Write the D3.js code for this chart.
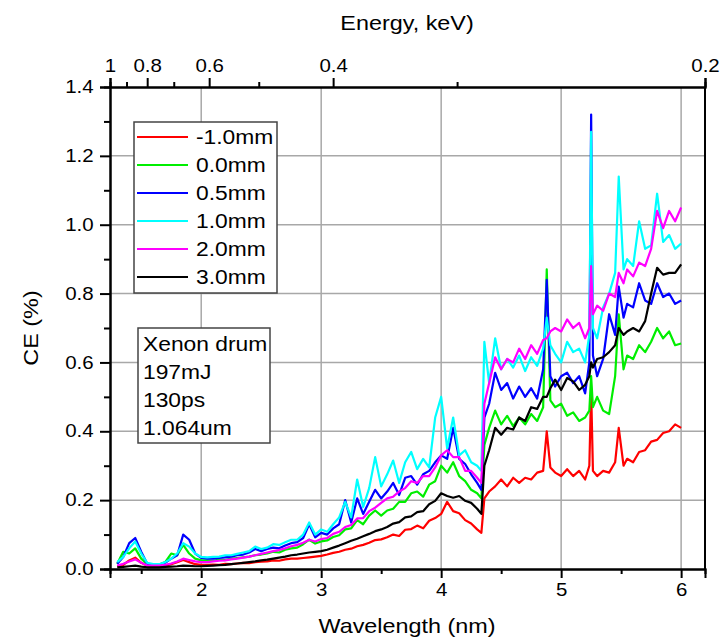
<!DOCTYPE html>
<html>
<head>
<meta charset="utf-8">
<script src="https://cdn.jsdelivr.net/npm/d3@7"></script>
<style>
  body { margin: 0; background: #fff; }
  text { font-family: "Liberation Sans", Arial, sans-serif; fill: #000; }
</style>
</head>
<body>
<div class="chart"></div>
<script>
// wavelength points (nm)
var wavelength = [
  1.30,1.35,1.40,1.45,1.50,1.55,1.60,1.65,1.70,1.75,1.80,1.85,1.90,1.95,2.00,
  2.05,2.10,2.15,2.20,2.25,2.30,2.35,2.40,2.45,2.50,2.55,2.60,2.65,2.70,2.75,
  2.80,2.85,2.90,2.95,3.00,3.05,3.10,3.15,3.20,3.25,3.30,3.35,3.40,3.45,3.50,
  3.55,3.60,3.65,3.70,3.75,3.80,3.85,3.90,3.95,4.00,4.05,4.10,4.15,4.20,4.25,
  4.30,4.335,4.36,4.40,4.45,4.50,4.55,4.60,4.65,4.70,4.75,4.80,4.85,4.88,4.91,
  4.95,5.00,5.05,5.10,5.15,5.20,5.235,5.25,5.265,5.30,5.35,5.40,5.45,5.48,5.52,
  5.55,5.60,5.65,5.70,5.75,5.80,5.85,5.90,5.95,6.00
];

var ceMinus10 = [
  0.008,0.012,0.025,0.033,0.018,0.010,0.008,0.008,0.010,0.014,0.020,0.026,0.020,0.014,0.012,
  0.012,0.013,0.012,0.015,0.014,0.016,0.018,0.017,0.020,0.021,0.022,0.025,0.024,0.028,0.030,
  0.030,0.032,0.034,0.036,0.038,0.042,0.047,0.050,0.056,0.059,0.066,0.070,0.076,0.084,0.086,
  0.092,0.100,0.096,0.114,0.116,0.126,0.118,0.140,0.148,0.160,0.195,0.168,0.162,0.142,0.132,
  0.115,0.105,0.205,0.225,0.240,0.260,0.240,0.265,0.250,0.265,0.260,0.280,0.285,0.400,0.295,
  0.280,0.270,0.290,0.270,0.285,0.260,0.300,0.520,0.285,0.270,0.285,0.280,0.310,0.410,0.300,
  0.320,0.310,0.340,0.345,0.370,0.375,0.395,0.400,0.420,0.410
];

var ce00 = [
  0.015,0.050,0.045,0.060,0.030,0.014,0.012,0.013,0.020,0.045,0.040,0.070,0.045,0.030,0.025,
  0.025,0.024,0.027,0.026,0.030,0.032,0.034,0.036,0.040,0.042,0.045,0.050,0.048,0.056,0.060,
  0.062,0.072,0.085,0.074,0.080,0.083,0.093,0.098,0.115,0.118,0.142,0.130,0.155,0.170,0.155,
  0.170,0.175,0.195,0.195,0.220,0.225,0.210,0.245,0.255,0.300,0.280,0.310,0.270,0.255,0.230,
  0.220,0.205,0.360,0.410,0.460,0.420,0.445,0.415,0.440,0.420,0.450,0.430,0.470,0.870,0.490,
  0.470,0.480,0.445,0.455,0.430,0.440,0.460,0.560,0.470,0.500,0.460,0.450,0.560,0.740,0.580,
  0.620,0.610,0.650,0.630,0.660,0.700,0.670,0.690,0.650,0.655
];

var ce05 = [
  0.015,0.035,0.075,0.090,0.050,0.015,0.012,0.012,0.018,0.030,0.040,0.100,0.085,0.045,0.032,
  0.030,0.030,0.032,0.034,0.036,0.040,0.042,0.048,0.058,0.052,0.058,0.062,0.060,0.068,0.075,
  0.078,0.090,0.130,0.092,0.105,0.100,0.118,0.130,0.200,0.135,0.205,0.160,0.195,0.230,0.205,
  0.225,0.250,0.215,0.265,0.270,0.245,0.275,0.285,0.310,0.330,0.320,0.410,0.320,0.305,0.275,
  0.250,0.230,0.440,0.480,0.570,0.520,0.540,0.495,0.530,0.500,0.525,0.495,0.580,0.840,0.560,
  0.530,0.560,0.570,0.540,0.560,0.510,0.600,1.320,0.620,0.560,0.610,0.740,0.680,0.820,0.730,
  0.770,0.760,0.830,0.780,0.770,0.830,0.790,0.800,0.770,0.780
];

var ce10 = [
  0.020,0.035,0.060,0.080,0.045,0.018,0.014,0.014,0.020,0.030,0.045,0.075,0.065,0.045,0.035,
  0.034,0.035,0.036,0.040,0.040,0.044,0.048,0.052,0.065,0.058,0.062,0.072,0.070,0.078,0.085,
  0.085,0.100,0.135,0.100,0.115,0.108,0.130,0.150,0.195,0.150,0.260,0.180,0.235,0.325,0.240,
  0.275,0.315,0.250,0.310,0.340,0.290,0.320,0.295,0.440,0.500,0.350,0.440,0.330,0.345,0.310,
  0.300,0.285,0.660,0.540,0.670,0.580,0.610,0.585,0.620,0.575,0.615,0.590,0.640,0.730,0.650,
  0.625,0.600,0.660,0.630,0.640,0.600,0.680,1.270,0.700,0.670,0.760,0.800,0.860,1.140,0.870,
  0.900,0.880,1.010,0.930,0.940,1.090,0.950,0.970,0.930,0.945
];

var ce20 = [
  0.010,0.015,0.022,0.028,0.018,0.010,0.010,0.010,0.012,0.016,0.022,0.030,0.026,0.022,0.020,
  0.020,0.022,0.024,0.025,0.028,0.030,0.033,0.036,0.040,0.044,0.048,0.052,0.055,0.060,0.066,
  0.070,0.076,0.085,0.080,0.087,0.090,0.102,0.108,0.122,0.128,0.147,0.148,0.168,0.178,0.192,
  0.205,0.210,0.225,0.235,0.255,0.250,0.270,0.270,0.295,0.330,0.345,0.325,0.325,0.285,0.285,
  0.265,0.250,0.480,0.540,0.615,0.580,0.610,0.600,0.640,0.610,0.650,0.625,0.665,0.670,0.690,
  0.700,0.690,0.725,0.700,0.715,0.670,0.700,0.880,0.740,0.765,0.750,0.800,0.790,0.860,0.830,
  0.870,0.850,0.890,0.880,0.930,1.040,0.990,1.040,1.010,1.050
];

var ce30 = [
  0.005,0.006,0.008,0.010,0.007,0.005,0.005,0.005,0.006,0.007,0.008,0.010,0.009,0.008,0.008,
  0.009,0.010,0.011,0.012,0.014,0.016,0.018,0.020,0.022,0.025,0.027,0.030,0.033,0.036,0.040,
  0.042,0.045,0.048,0.050,0.052,0.056,0.062,0.068,0.075,0.082,0.088,0.095,0.102,0.110,0.115,
  0.122,0.132,0.136,0.150,0.153,0.165,0.168,0.188,0.198,0.220,0.212,0.207,0.212,0.198,0.192,
  0.175,0.160,0.300,0.345,0.410,0.390,0.410,0.405,0.440,0.430,0.470,0.465,0.500,0.500,0.525,
  0.550,0.520,0.555,0.545,0.520,0.535,0.560,0.600,0.585,0.610,0.615,0.630,0.650,0.700,0.680,
  0.690,0.700,0.690,0.720,0.800,0.875,0.855,0.860,0.860,0.885
];

var seriesNames = ["-1.0mm", "0.0mm", "0.5mm", "1.0mm", "2.0mm", "3.0mm"];
var seriesColors = ["#ff0000", "#00ee00", "#0000ff", "#00ffff", "#ff00ff", "#000000"];
var seriesValues = [ceMinus10, ce00, ce05, ce10, ce20, ce30];

var yMajorTicks = [0, 0.2, 0.4, 0.6, 0.8, 1.0, 1.2, 1.4];
var yMinorTicks = [0.1, 0.3, 0.5, 0.7, 0.9, 1.1, 1.3];
var xMajorTicks = [2, 3, 4, 5, 6];
var xMinorTicks = [1.5, 2.5, 3.5, 4.5, 5.5];
var energyMajorTicks = [1, 0.8, 0.6, 0.4, 0.2];
var energyMinorTicks = [0.9, 0.7, 0.5, 0.3];
var infoLines = ["Xenon drum", "197mJ", "130ps", "1.064um"];

var hc = 1.2398; // keV*nm

var svgWidth = 722;
var svgHeight = 641;
var margin = { top: 87, right: 17, bottom: 72, left: 110 };
var width = svgWidth - margin.left - margin.right;
var height = svgHeight - margin.top - margin.bottom;
var sx = 1.17; // horizontal stretch of the lettering

var svg = d3.select(".chart")
  .append("svg")
  .attr("width", svgWidth)
  .attr("height", svgHeight);

var chartGroup = svg.append("g")
  .attr("transform", `translate(${margin.left}, ${margin.top})`);

var xScale = d3.scaleLinear().domain([hc / 1, hc / 0.2]).range([0, width]);
var yScale = d3.scaleLinear().domain([0, 1.4]).range([height, 0]);

// grid
chartGroup.selectAll(".hgrid")
  .data(yMajorTicks.slice(1, -1))
  .enter().append("line")
  .attr("x1", 0).attr("x2", width)
  .attr("y1", d => yScale(d)).attr("y2", d => yScale(d))
  .attr("stroke", "#a8a8a8").attr("stroke-width", 1.5);

chartGroup.selectAll(".vgrid")
  .data(xMajorTicks)
  .enter().append("line")
  .attr("x1", d => xScale(d)).attr("x2", d => xScale(d))
  .attr("y1", 0).attr("y2", height)
  .attr("stroke", "#a8a8a8").attr("stroke-width", 1.5);

// spectra
var line = d3.line()
  .x((d, i) => xScale(wavelength[i]))
  .y(d => yScale(d));

seriesValues.forEach(function(vals, k) {
  chartGroup.append("path")
    .datum(vals)
    .attr("fill", "none")
    .attr("stroke", seriesColors[k])
    .attr("stroke-width", 2.2)
    .attr("stroke-linejoin", "round")
    .attr("d", line);
});

function styleAxis(g, fontSize) {
  g.select(".domain").attr("stroke", "#000").attr("stroke-width", 2);
  g.selectAll(".tick line").attr("stroke", "#000").attr("stroke-width", 2);
  g.selectAll("text")
    .attr("font-size", fontSize + "px")
    .attr("font-family", "Liberation Sans, Arial, sans-serif")
    .attr("transform", `scale(${sx},1)`);
}

// left axis
var leftAxis = chartGroup.append("g")
  .call(d3.axisLeft(yScale).tickValues(yMajorTicks).tickSize(10).tickPadding(4)
    .tickFormat(d3.format(".1f")));
styleAxis(leftAxis, 17.5);
var leftMinor = chartGroup.append("g")
  .call(d3.axisLeft(yScale).tickValues(yMinorTicks).tickSize(6).tickFormat(""));
styleAxis(leftMinor, 17.5);

// bottom axis
var bottomAxis = chartGroup.append("g")
  .attr("transform", `translate(0, ${height})`)
  .call(d3.axisBottom(xScale).tickValues(xMajorTicks).tickSize(9).tickPadding(6)
    .tickFormat(d3.format("d")));
styleAxis(bottomAxis, 17.5);
var bottomMinor = chartGroup.append("g")
  .attr("transform", `translate(0, ${height})`)
  .call(d3.axisBottom(xScale).tickValues(xMinorTicks).tickSize(5).tickFormat(""));
styleAxis(bottomMinor, 17.5);

// top axis (energy)
var topAxis = chartGroup.append("g")
  .call(d3.axisTop(xScale).tickValues(energyMajorTicks.map(e => hc / e))
    .tickSize(9).tickPadding(6)
    .tickFormat(w => d3.format("~g")(+(hc / w).toFixed(2))));
styleAxis(topAxis, 17.5);
var topMinor = chartGroup.append("g")
  .call(d3.axisTop(xScale).tickValues(energyMinorTicks.map(e => hc / e))
    .tickSize(5).tickFormat(""));
styleAxis(topMinor, 17.5);

// right frame
chartGroup.append("line")
  .attr("x1", width).attr("x2", width)
  .attr("y1", 0).attr("y2", height)
  .attr("stroke", "#000").attr("stroke-width", 2);

function stretchedText(parent, x, y, str, size, anchor, rotate) {
  return parent.append("text")
    .attr("transform", `translate(${x},${y})` + (rotate ? ` rotate(${rotate})` : "") + ` scale(${sx},1)`)
    .attr("text-anchor", anchor || "start")
    .attr("font-size", size + "px")
    .text(str);
}

// axis titles
stretchedText(svg, 407, 30, "Energy, keV)", 20, "middle");
stretchedText(svg, 407, 633, "Wavelength (nm)", 20, "middle");
stretchedText(svg, 38, 328, "CE (%)", 20, "middle", -90);

// legend
var legend = svg.append("g").attr("transform", "translate(134, 122)");
legend.append("rect")
  .attr("width", 143).attr("height", 171)
  .attr("fill", "#fff").attr("stroke", "#444").attr("stroke-width", 1.5);
seriesNames.forEach(function(name, k) {
  var cy = 15 + k * 28;
  legend.append("line")
    .attr("x1", 3).attr("x2", 54)
    .attr("y1", cy).attr("y2", cy)
    .attr("stroke", seriesColors[k]).attr("stroke-width", 2);
  stretchedText(legend, 62, cy + 7, name, 19.5, "start");
});

// info box
var info = svg.append("g").attr("transform", "translate(138, 328)");
info.append("rect")
  .attr("width", 132).attr("height", 115)
  .attr("fill", "#fff").attr("stroke", "#444").attr("stroke-width", 1.5);
infoLines.forEach(function(t, k) {
  stretchedText(info, 5, 23 + k * 28, t, 19.5, "start");
});
</script>
</body>
</html>
